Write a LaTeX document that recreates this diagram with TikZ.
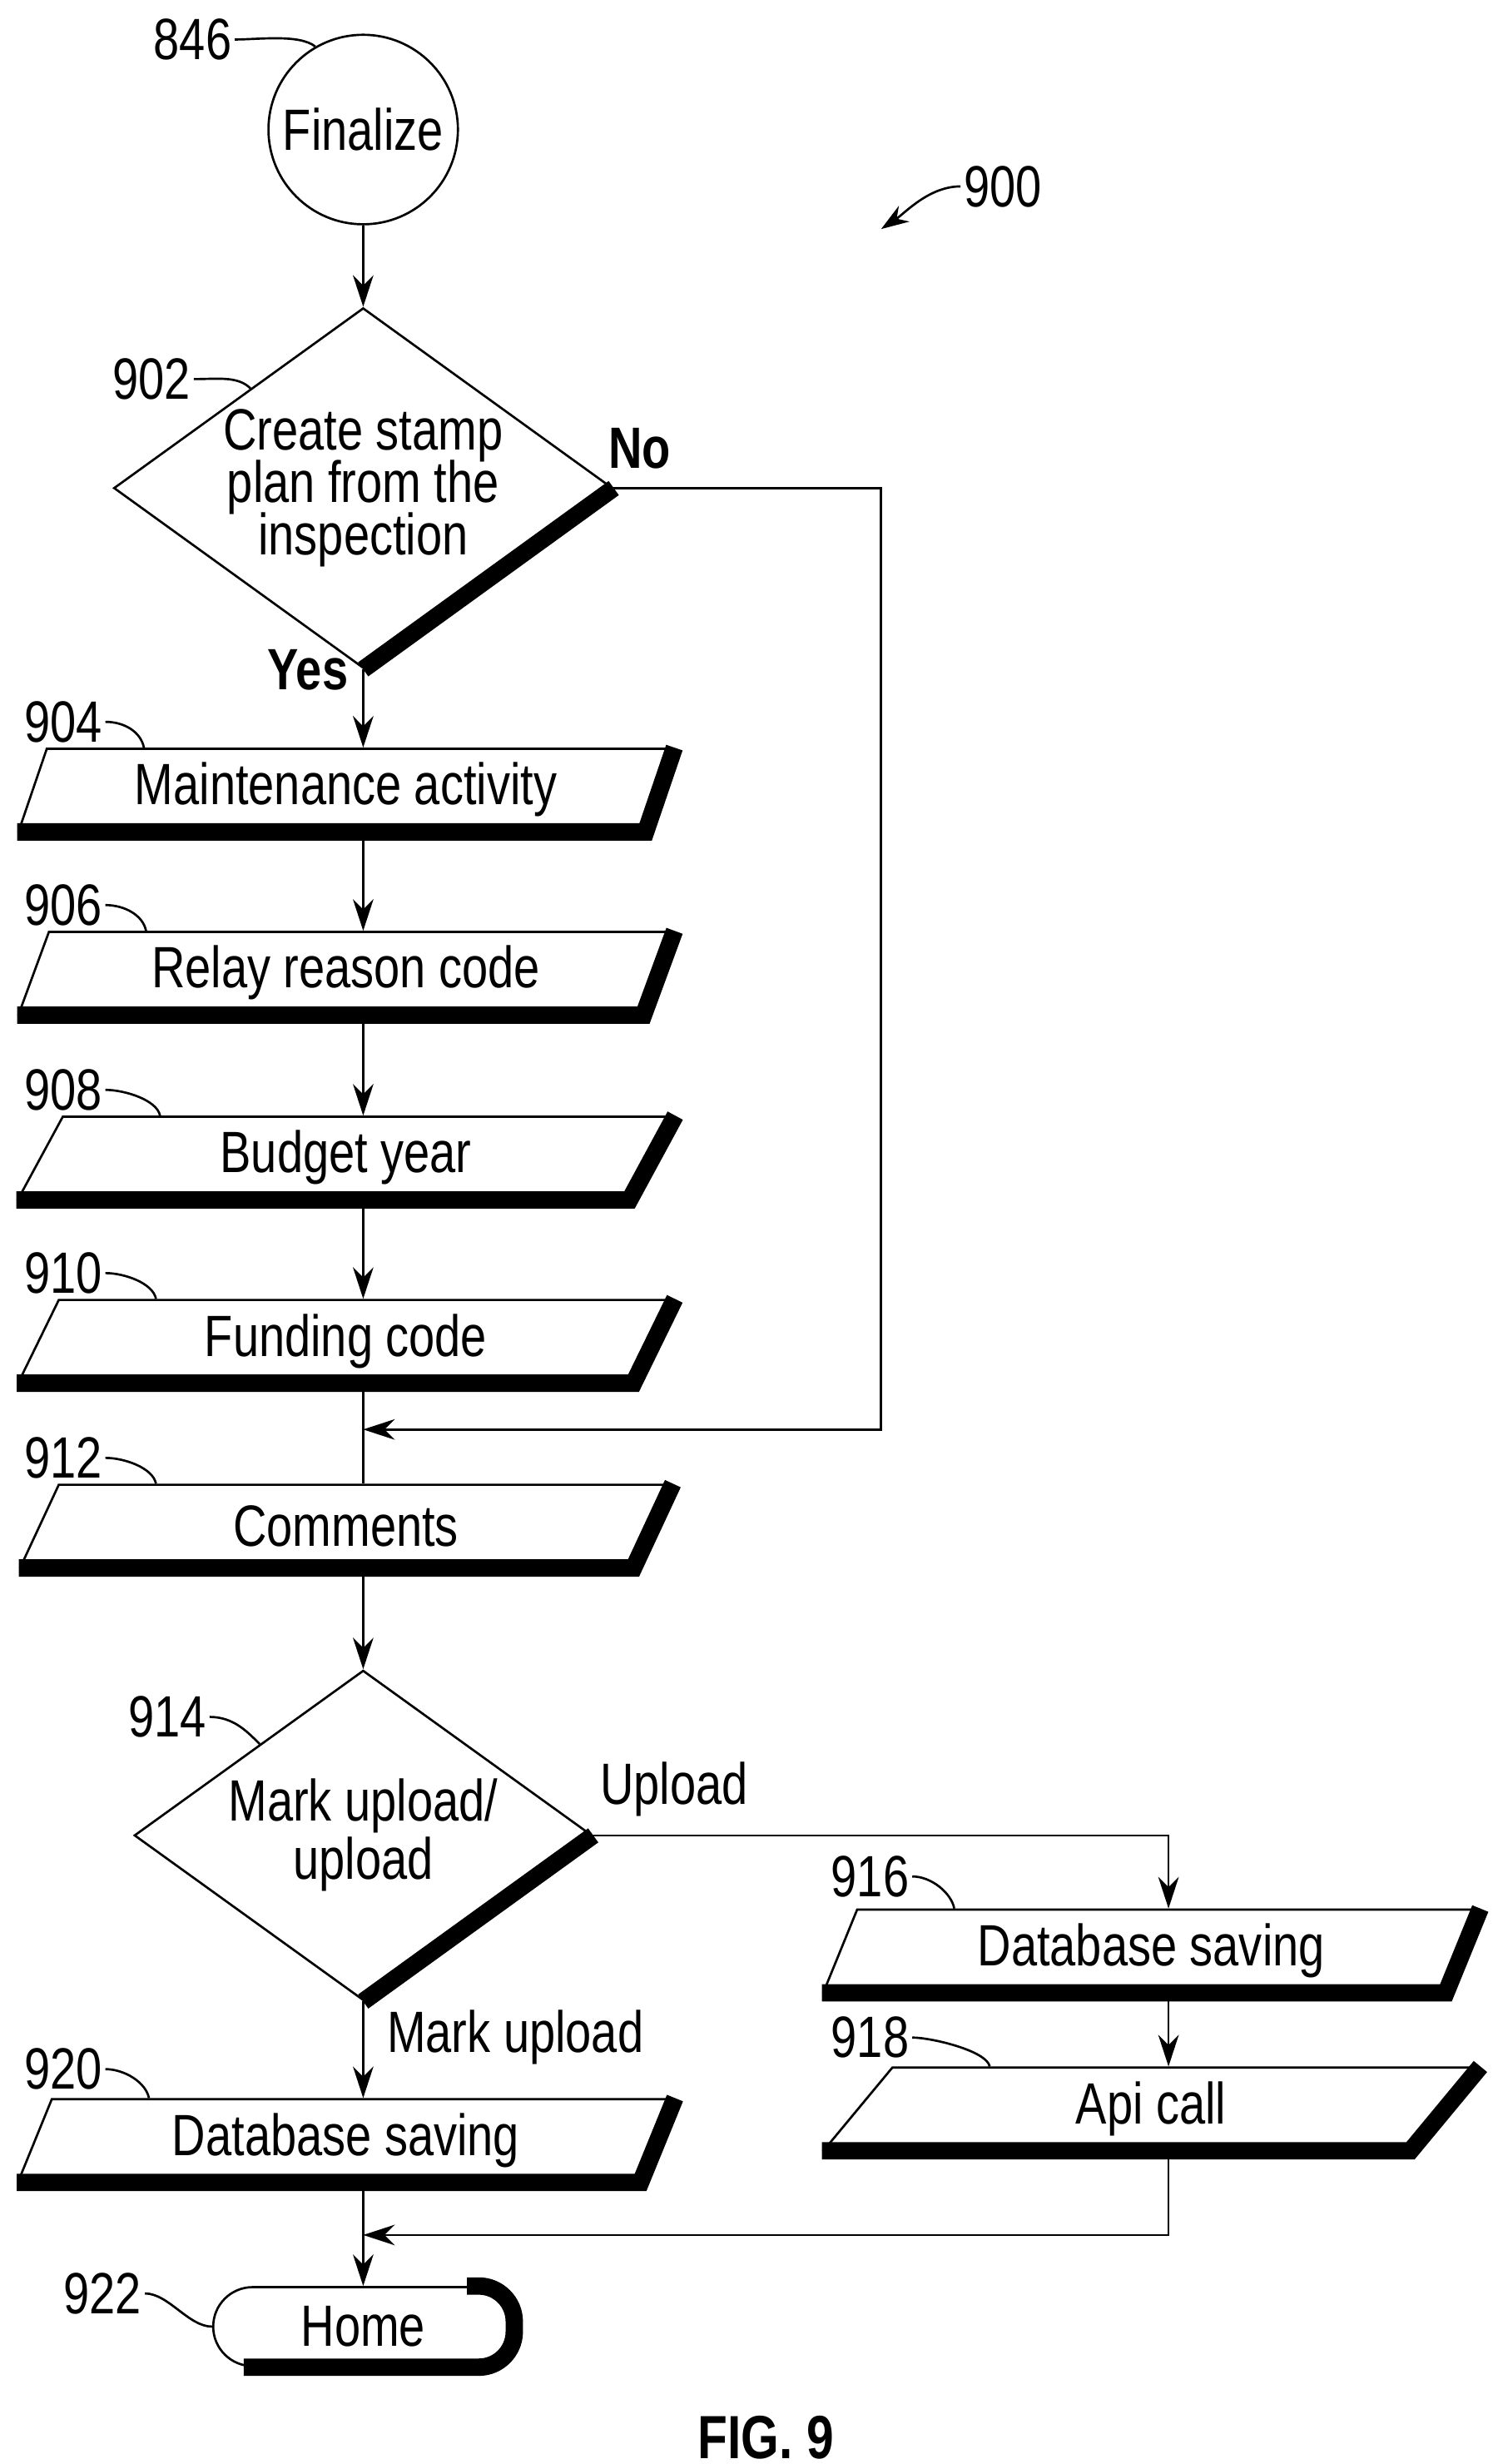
\documentclass[tikz,border=0pt]{standalone}
\usepackage{fontspec}
\setmainfont{Liberation Sans}[FakeStretch=0.8]
\usetikzlibrary{positioning,shapes.geometric,arrows.meta,calc}
\tikzset{
    box/.style={
        draw, thick,
        trapezium, trapezium left angle=70, trapezium right angle=110,
        trapezium stretches=true,
        minimum width=8.3cm, minimum height=1.04cm, inner sep=0pt
    },
    dec/.style={
        draw, thick, diamond, aspect=1.385, inner sep=0pt,
        minimum width=5.8cm, minimum height=4.18cm, align=center
    },
    lbl/.style={inner sep=1pt},
    flow/.style={thick,-{Stealth[length=4mm,width=2.6mm]}},
    lead/.style={thick}
}
\newcommand{\boxshadow}[1]{\draw[line width=2.2mm]
  (#1.bottom left corner) -- (#1.bottom right corner) -- (#1.top right corner);}
\begin{document}
\begin{tikzpicture}[x=0.02cm,y=-0.02cm,font=\fontsize{21}{24}\selectfont]
\useasboundingbox (0,0) rectangle (945,1560);
% start
\node[draw,thick,circle,minimum size=2.4cm,inner sep=0pt] (fin) at (230,82) {Finalize};
\node[lbl] (l846) at (122,25) {846};
\draw[lead] (l846.east) .. controls +(15,0) and +(-10,-8) .. (fin.120);
\node[lbl] (l900) at (635,118) {900};
\coordinate (a900) at (558,145);
\draw[lead,-{Stealth[length=3.5mm,width=2.4mm]}] (l900.west) .. controls +(-20,0) and +(15,-10) .. (a900);
% first decision
\node[dec] (d902) at (230,309) {Create stamp\\[-5pt]plan from the\\[-5pt]inspection};
\draw[line width=2.2mm] (d902.east) -- (d902.south);
\node[lbl] (l902) at (96,240) {902};
\draw[lead] (l902.east) .. controls +(15,0) and +(-8,-8) .. ($(d902.north)!0.45!(d902.west)$);
\node[lbl,font=\fontsize{21}{24}\selectfont\bfseries] (no) at (405,284) {No};
\node[lbl,font=\fontsize{21}{24}\selectfont\bfseries] (yes) at (195,424) {Yes};
% steps
\foreach \n/\y/\t in {904/500/Maintenance activity,906/616/Relay reason code,908/733/Budget year,910/849/Funding code,912/966/Comments}{
  \node[box] (n\n) at (219,\y) {\t};
  \boxshadow{n\n}
  \node[lbl] (l\n) at (40,\y-43) {\n};
  \draw[lead] (l\n.east) .. controls +(12,0) and +(-2,-10) .. ($(n\n.top left corner)+(62,0)$);
}
\draw[flow] (fin) -- (d902);
\draw[flow] (d902.south) -- (n904.north -| d902.south);
\foreach \a/\b in {904/906,906/908,908/910}
  \draw[flow] (n\a.south -| d902.south) -- (n\b.north -| d902.south);
\coordinate (j912) at (230,905);
\coordinate (c902) at (558,309);
\draw[thick] (n910.south -| j912) -- (n912.north -| j912);
\draw[flow] (d902.east) -- (c902) |- (j912);
% second decision
\node[dec] (d914) at (230,1162) {Mark upload/\\[-3pt]upload};
\draw[line width=2.2mm] (d914.east) -- (d914.south);
\node[lbl] (l914) at (106,1087) {914};
\draw[lead] (l914.east) .. controls +(15,0) and +(-8,-8) .. ($(d914.north)!0.45!(d914.west)$);
\draw[flow] (n912.south -| j912) -- (d914.north);
\node[lbl,anchor=west] (up) at (378,1133) {Upload};
\node[lbl,anchor=west] (mu) at (243,1290) {Mark upload};
% upload branch
\node[box] (n916) at (729,1235) {Database saving};
\boxshadow{n916}
\node[box] (n918) at (729,1335) {Api call};
\boxshadow{n918}
\node[lbl] (l916) at (551,1188) {916};
\draw[lead] (l916.east) .. controls +(12,0) and +(-2,-10) .. ($(n916.top left corner)+(62,0)$);
\node[lbl] (l918) at (551,1290) {918};
\draw[lead] (l918.east) .. controls +(12,0) and +(-2,-10) .. ($(n918.top left corner)+(62,0)$);
\coordinate (c914) at (740,1162);
\draw[flow] (d914.east) -- (c914) -- (c914 |- n916.north);
\draw[flow] (n916.south -| c914) -- (n918.north -| c914);
% mark upload branch
\node[box] (n920) at (219,1355) {Database saving};
\boxshadow{n920}
\node[lbl] (l920) at (40,1310) {920};
\draw[lead] (l920.east) .. controls +(12,0) and +(-2,-10) .. ($(n920.top left corner)+(62,0)$);
\draw[flow] (d914.south) -- (n920.north -| d914.south);
% end
\node[draw,thick,rounded corners=0.5cm,minimum width=3.8cm,minimum height=1cm] (home) at (230,1473) {Home};
\draw[line width=2.2mm,rounded corners=0.45cm] ($(home.north east)+(-30,0)$) -- (home.north east) -- (home.south east) -- ($(home.south west)+(20,0)$);
\node[lbl] (l922) at (65,1452) {922};
\draw[lead] (l922.east) .. controls +(15,0) and +(-15,0) .. (home.west);
\coordinate (j920) at (230,1415);
\draw[flow] (n918.south -| c914) |- (j920);
\draw[flow] (n920.south -| j920) -- (home.north);
\node[font=\fontsize{22}{26}\selectfont\bfseries] (fig) at (485,1543) {FIG. 9};
\end{tikzpicture}
\end{document}
